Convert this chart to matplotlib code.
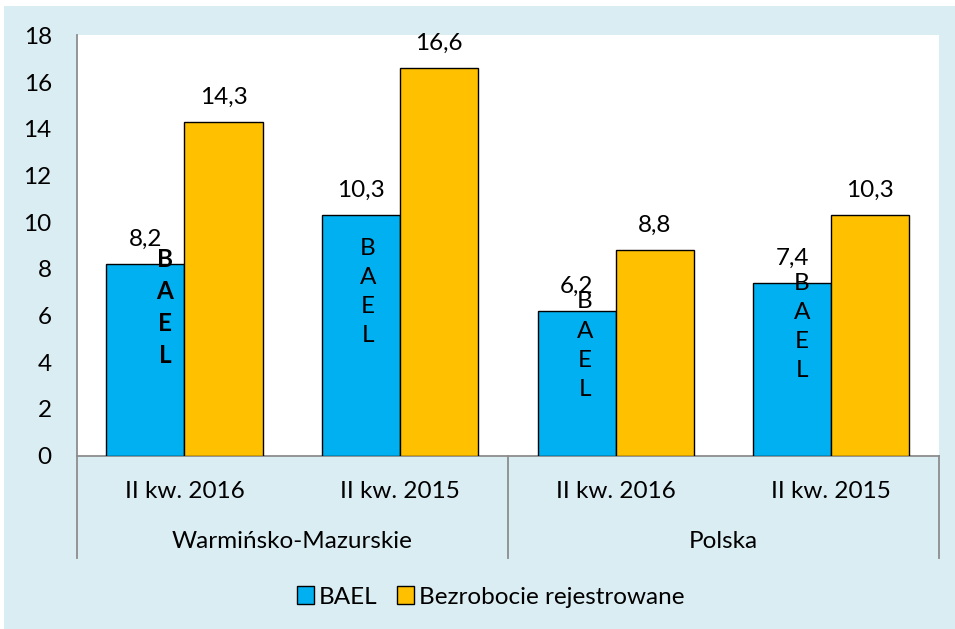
import matplotlib
matplotlib.use("Agg")
import matplotlib.pyplot as plt
from matplotlib.patches import Rectangle, Patch
from matplotlib.lines import Line2D
from matplotlib.transforms import blended_transform_factory

plt.rcParams['font.family'] = ['Lato', 'DejaVu Sans']

# ---- data ----
periods = ["II kw. 2016", "II kw. 2015", "II kw. 2016", "II kw. 2015"]
groups = ["Warmińsko-Mazurskie", "Polska"]
bael = [8.2, 10.3, 6.2, 7.4]
registered = [14.3, 16.6, 8.8, 10.3]
series_names = ["BAEL", "Bezrobocie rejestrowane"]
bael_vertical_center = [6.35, 7.01, 4.71, 5.51]
bael_vertical_bold = [True, False, False, False]
yticks = [0, 2, 4, 6, 8, 10, 12, 14, 16, 18]

BLUE = "#00B0F0"
ORANGE = "#FFC000"
PANEL = "#DAEDF3"
GRAY = "#8C8C8C"
FS = 17.5

W, H = 955, 629
fig = plt.figure(figsize=(W / 100, H / 100), dpi=100)
fig.patch.set_facecolor("white")
fig.add_artist(Rectangle((4 / W, 0), 1, 1 - 6 / H, transform=fig.transFigure,
                         facecolor=PANEL, edgecolor="none", zorder=0))

left, right, top, bottom = 76.7, 939, 35.3, 455.7
ax = fig.add_axes([left / W, 1 - bottom / H, (right - left) / W, (bottom - top) / H])
ax.set_facecolor("white")

bw = 0.362
x = list(range(len(periods)))
xb = [i - bw / 2 for i in x]
xr = [i + bw / 2 for i in x]
ax.bar(xb, bael, width=bw, color=BLUE, edgecolor="black", linewidth=1.0, zorder=3)
ax.bar(xr, registered, width=bw, color=ORANGE, edgecolor="black", linewidth=1.0, zorder=3)

for xi, v in zip(xb, bael):
    ax.annotate(f"{v:.1f}".replace(".", ","), (xi, v), xytext=(0, 13), textcoords="offset points",
                ha="center", va="baseline", fontsize=FS, zorder=5)
for xi, v in zip(xr, registered):
    ax.annotate(f"{v:.1f}".replace(".", ","), (xi, v), xytext=(0, 13), textcoords="offset points",
                ha="center", va="baseline", fontsize=FS, zorder=5)

x_offsets_pt = [14, 5, 6, 7]
for xi, yc, b, dx in zip(xb, bael_vertical_center, bael_vertical_bold, x_offsets_pt):
    ax.annotate("B\nA\nE\nL", (xi, yc), xytext=(dx, 0), textcoords="offset points",
                ha="center", va="center", fontsize=FS, linespacing=1.48,
                fontweight="bold" if b else "normal", zorder=6)

ax.set_xlim(-0.5, len(periods) - 0.5)
ax.set_ylim(0, 18)
ax.set_yticks(yticks)
ax.set_yticklabels([str(t) for t in yticks], fontsize=FS)
ax.tick_params(axis="y", length=0, pad=18)
ax.set_xticks([])
for s in ["top", "right"]:
    ax.spines[s].set_visible(False)
for s in ["left", "bottom"]:
    ax.spines[s].set_color(GRAY)
    ax.spines[s].set_linewidth(1.3)

# hierarchical category axis
tr = blended_transform_factory(ax.transData, fig.transFigure)
for xi, lab in zip(x, periods):
    ax.text(xi, 1 - 491 / H, lab, transform=tr, ha="center", va="center", fontsize=FS)
n_per_group = len(periods) // len(groups)
for gi, g in enumerate(groups):
    cx = gi * n_per_group + (n_per_group - 1) / 2
    ax.text(cx, 1 - 542 / H, g, transform=tr, ha="center", va="center", fontsize=FS)
for gi in range(len(groups) + 1):
    xs = gi * n_per_group - 0.5
    fig.add_artist(Line2D([xs, xs], [1 - bottom / H, 1 - 558 / H], transform=tr,
                          color=GRAY, linewidth=1.3))

handles = [Patch(facecolor=BLUE, edgecolor="black", linewidth=1.0),
           Patch(facecolor=ORANGE, edgecolor="black", linewidth=1.0)]
fig.legend(handles, series_names, loc="center", bbox_to_anchor=(491 / W, 1 - 597 / H),
           ncol=2, frameon=False, fontsize=FS, handlelength=0.7, handleheight=0.7,
           handletextpad=0.2, columnspacing=0.8)

fig.savefig("out.png", dpi=100, facecolor=fig.get_facecolor())
